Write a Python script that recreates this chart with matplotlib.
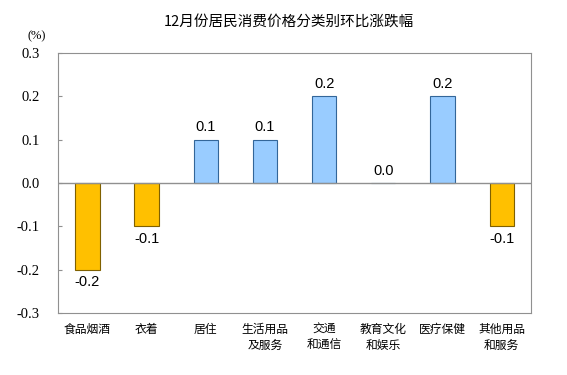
import numpy as np
import matplotlib.pyplot as plt

plt.rcParams['font.family'] = ['Noto Sans CJK SC', 'DejaVu Sans']

# data
categories = ['食品烟酒', '衣着', '居住', '生活用品\n及服务', '交通\n和通信',
              '教育文化\n和娱乐', '医疗保健', '其他用品\n和服务']
values = [-0.2, -0.1, 0.1, 0.1, 0.2, 0.0, 0.2, -0.1]
yticks = [-0.3, -0.2, -0.1, 0.0, 0.1, 0.2, 0.3]

fig = plt.figure(figsize=(5.67, 3.75), dpi=100)
ax = fig.add_axes([0.102, 0.165, 0.835, 0.694])

x = np.arange(len(categories))
colors = ['#FFC000' if v < 0 else '#99CCFF' for v in values]
edges = ['#7F6000' if v < 0 else '#336699' for v in values]
ax.bar(x, values, width=0.41, color=colors, edgecolor=edges, linewidth=0.8, zorder=3)

# value labels
for xi, v in zip(x, values):
    if v < 0:
        ax.text(xi, v - 0.012, '%.1f' % v, ha='center', va='top', fontsize=10.5,
                family=['Liberation Sans'])
    else:
        ax.text(xi, v + 0.012, '%.1f' % v, ha='center', va='bottom', fontsize=10.5,
                family=['Liberation Sans'])

ax.axhline(0, color='#909090', lw=1, zorder=4)
ax.set_xlim(-0.5, len(categories) - 0.5)
ax.set_ylim(-0.3, 0.3)
ax.set_yticks(yticks)
ax.set_yticklabels(['%.1f' % t for t in yticks], family=['Liberation Serif'], fontsize=10.5)
ax.tick_params(axis='y', direction='in', length=3, color='#909090', pad=13)
ax.set_xticks(x)
ax.set_xticklabels(categories, fontsize=8.5, linespacing=1.3)
ax.tick_params(axis='x', length=0, pad=7)
for s in ax.spines.values():
    s.set_color('#909090')

fig.text(0.065, 0.895, '(%)', family=['Liberation Serif'], fontsize=9, ha='center')
fig.text(0.51, 0.941, '12月份居民消费价格分类别环比涨跌幅', ha='center', va='center', fontsize=10.5)

fig.savefig('out.png', dpi=100)
